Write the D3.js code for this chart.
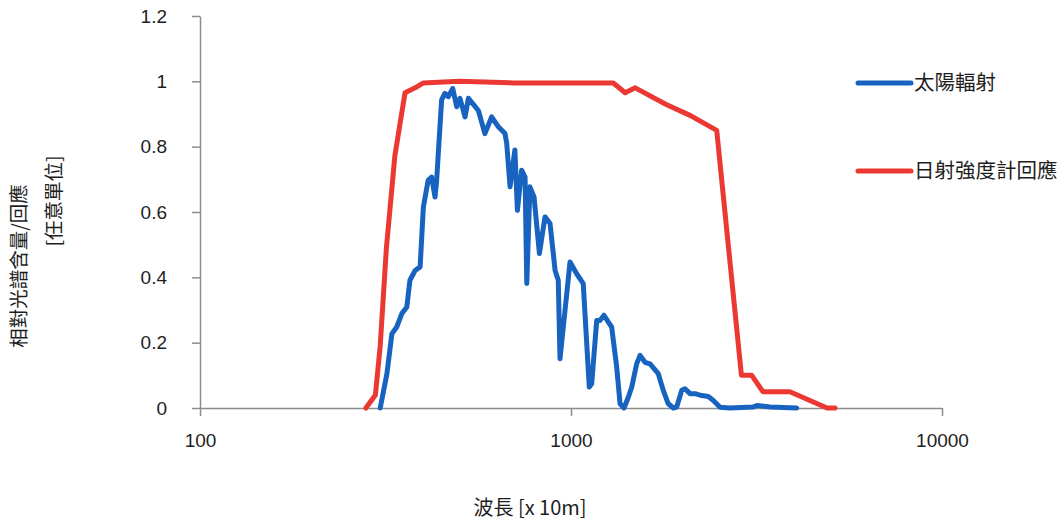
<!doctype html>
<html>
<head>
<meta charset="UTF-8">
<title>太陽輻射 / 日射強度計回應</title>
<script src="https://d3js.org/d3.v7.min.js"></script>
<style>
  body{margin:0;background:#fff;}
  svg text{font-family:"Liberation Sans",Arial,"Noto Sans CJK TC",sans-serif;fill:#1e1e1e;}
  svg .cjk{font-family:"Noto Sans CJK TC","Liberation Sans",sans-serif;}
  .axis path,.axis line{stroke:#8c8c8c;stroke-width:1.5;}
</style>
</head>
<body>
<svg id="chart" width="1064" height="524"></svg>
<script>
// 太陽輻射 (blue)
var solarWave  = [306,319,329,339,350,361,368,380,392,400,412,421,430,434,448,457,467,480,492,502,518,529,545,563,586,611,637,664,671,685,706,717,736,752,760,775,795,822,851,878,906,924,934,994,1036,1079,1120,1137,1173,1197,1227,1261,1287,1328,1356,1390,1427,1458,1503,1535,1583,1633,1719,1773,1829,1887,1927,1988,2029,2093,2159,2251,2345,2419,2522,2683,3100,3166,3439,4059];
var solarValue = [0,0.105,0.227,0.248,0.289,0.309,0.391,0.421,0.432,0.615,0.697,0.707,0.646,0.69,0.943,0.963,0.953,0.978,0.922,0.948,0.891,0.948,0.93,0.91,0.84,0.891,0.861,0.84,0.81,0.677,0.79,0.605,0.728,0.707,0.381,0.677,0.646,0.473,0.585,0.565,0.421,0.391,0.151,0.447,0.411,0.381,0.064,0.074,0.268,0.268,0.284,0.263,0.248,0.125,0.013,0,0.033,0.064,0.135,0.161,0.14,0.135,0.105,0.054,0.013,0,0.003,0.054,0.059,0.044,0.044,0.038,0.035,0.023,0.002,0,0.003,0.008,0.003,0];
// 日射強度計回應 (red)
var meterWave  = [280,297,306,318,335,346,357,380,400,500,700,1000,1300,1400,1490,1800,2100,2470,2880,3070,3290,3890,4900,5150];
var meterValue = [0,0.04,0.19,0.49,0.77,0.87,0.965,0.98,0.995,1.0,0.995,0.995,0.995,0.965,0.98,0.93,0.895,0.85,0.1,0.1,0.05,0.05,0,0];

var xTicks = [100,1000,10000];
var yTicks = [0,0.2,0.4,0.6,0.8,1,1.2];
var seriesNames = ["太陽輻射","日射強度計回應"];
var seriesColors = ["#1763bf","#ec3833"];

var svg = d3.select("#chart");
var x = d3.scaleLog().domain([100,10000]).range([200,942]);
var y = d3.scaleLinear().domain([0,1.2]).range([408,16]);

// axes
svg.append("g").attr("class","axis")
   .attr("transform","translate(200,0)")
   .call(d3.axisLeft(y).tickValues(yTicks).tickFormat(d3.format("~g"))
           .tickSize(8).tickSizeOuter(0).tickPadding(25))
   .selectAll("text").attr("font-size",19);

svg.append("g").attr("class","axis")
   .attr("transform","translate(0,408)")
   .call(d3.axisBottom(x).tickValues(xTicks).tickFormat(d3.format("d"))
           .tickSize(8).tickSizeOuter(0).tickPadding(18))
   .selectAll("text").attr("font-size",19);

svg.selectAll(".axis .domain").attr("stroke","#8c8c8c");

// lines
var line = d3.line().x(function(d){ return x(d[0]); }).y(function(d){ return y(d[1]); });
var series = [d3.zip(solarWave,solarValue), d3.zip(meterWave,meterValue)];

// red drawn first, blue on top
[1,0].forEach(function(i){
    svg.append("path")
       .datum(series[i])
       .attr("d",line)
       .attr("fill","none")
       .attr("stroke",seriesColors[i])
       .attr("stroke-width",5)
       .attr("stroke-linejoin","round")
       .attr("stroke-linecap","round");
});

// legend
var legendY = [83,171];
seriesNames.forEach(function(name,i){
    svg.append("line")
       .attr("x1",858).attr("x2",911)
       .attr("y1",legendY[i]).attr("y2",legendY[i])
       .attr("stroke",seriesColors[i]).attr("stroke-width",5)
       .attr("stroke-linecap","round");
    svg.append("text").attr("class","cjk")
       .attr("x",914).attr("y",legendY[i]).attr("dy","0.36em")
       .attr("font-size",20.5)
       .text(name);
});

// axis titles
svg.append("text").attr("class","cjk")
   .attr("x",530).attr("y",508).attr("dy","0.36em")
   .attr("text-anchor","middle").attr("font-size",20)
   .text("波長 [x 10m]");

svg.append("text").attr("class","cjk")
   .attr("transform","translate(19,266) rotate(-90)")
   .attr("dy","0.36em").attr("text-anchor","middle").attr("font-size",19.5)
   .text("相對光譜含量/回應");
svg.append("text").attr("class","cjk")
   .attr("transform","translate(54,201) rotate(-90)")
   .attr("dy","0.36em").attr("text-anchor","middle").attr("font-size",19.5)
   .text("[任意單位]");
</script>
</body>
</html>
